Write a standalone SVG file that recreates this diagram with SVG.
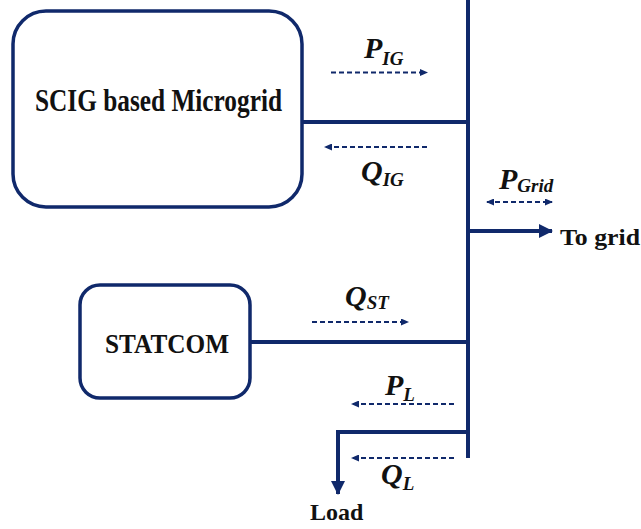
<svg xmlns="http://www.w3.org/2000/svg" width="641" height="529" viewBox="0 0 641 529">
  <style>
    .box { fill: #ffffff; stroke: #10296b; stroke-width: 3.5; }
    .wire { fill: none; stroke: #10296b; stroke-width: 4; }
    .flow { fill: none; stroke: #10296b; stroke-width: 1.8; stroke-dasharray: 5 3; }
    .name { font-family: "Liberation Serif", "Times New Roman", serif; font-weight: bold; fill: #111111; }
    .sym { font-family: "Liberation Serif", "Times New Roman", serif; font-weight: bold; font-style: italic; fill: #111111; }
    .main { font-size: 30px; }
    .sub { font-size: 19px; }
  </style>
  <defs>
    <marker id="bigHead" viewBox="0 0 14 14" refX="13" refY="7" markerWidth="14" markerHeight="14" markerUnits="userSpaceOnUse" orient="auto">
      <path d="M0,0 L14,7 L0,14 Z" fill="#10296b"/>
    </marker>
    <marker id="smallHead" viewBox="0 0 8 7" refX="7" refY="3.5" markerWidth="8" markerHeight="7" markerUnits="userSpaceOnUse" orient="auto">
      <path d="M0,0 L8,3.5 L0,7 Z" fill="#10296b"/>
    </marker>
    <marker id="smallTail" viewBox="0 0 8 7" refX="1" refY="3.5" markerWidth="8" markerHeight="7" markerUnits="userSpaceOnUse" orient="auto">
      <path d="M8,0 L0,3.5 L8,7 Z" fill="#10296b"/>
    </marker>
  </defs>

  <rect width="641" height="529" fill="#ffffff"/>

  <!-- bus bar and feeders -->
  <g id="connectors">
    <line class="wire" x1="468" y1="0" x2="468" y2="458"/>
    <line class="wire" x1="302" y1="122" x2="468" y2="122"/>
    <line class="wire" x1="250" y1="342" x2="468" y2="342"/>
    <line class="wire" x1="468" y1="231" x2="552" y2="231" marker-end="url(#bigHead)"/>
    <polyline class="wire" points="468,432 338,432 338,494" marker-end="url(#bigHead)"/>

    <!-- power flow indicators -->
    <line class="flow" x1="331" y1="72.5" x2="427" y2="72.5" marker-end="url(#smallHead)"/>
    <line class="flow" x1="427" y1="147" x2="325" y2="147" marker-end="url(#smallHead)"/>
    <line class="flow" x1="487" y1="202" x2="552" y2="202" marker-start="url(#smallTail)" marker-end="url(#smallHead)"/>
    <line class="flow" x1="312" y1="322" x2="408" y2="322" marker-end="url(#smallHead)"/>
    <line class="flow" x1="454" y1="404" x2="352" y2="404" marker-end="url(#smallHead)"/>
    <line class="flow" x1="454" y1="458" x2="352" y2="458" marker-end="url(#smallHead)"/>
  </g>

  <g id="microgrid">
    <rect class="box" x="13" y="11" width="289" height="196" rx="33" ry="33"/>
    <text class="name" x="35" y="111" font-size="32" textLength="247" lengthAdjust="spacingAndGlyphs">SCIG based Microgrid</text>
  </g>

  <g id="statcom">
    <rect class="box" x="80" y="285" width="170" height="113" rx="20" ry="20"/>
    <text class="name" x="105" y="353" font-size="27" textLength="124" lengthAdjust="spacingAndGlyphs">STATCOM</text>
  </g>

  <g id="grid">
    <text class="name" x="560" y="245" font-size="24" textLength="80" lengthAdjust="spacingAndGlyphs">To grid</text>
  </g>

  <g id="load">
    <text class="name" x="310" y="520" font-size="24">Load</text>
  </g>

  <g id="labels">
    <text class="sym" x="364" y="58"><tspan class="main">P</tspan><tspan class="sub" dy="7">IG</tspan></text>
    <text class="sym" x="361" y="181"><tspan class="main">Q</tspan><tspan class="sub" dy="5">IG</tspan></text>
    <text class="sym" x="499" y="189"><tspan class="main">P</tspan><tspan class="sub" dy="3">Grid</tspan></text>
    <text class="sym" x="345" y="306"><tspan class="main">Q</tspan><tspan class="sub" dy="3">ST</tspan></text>
    <text class="sym" x="385" y="395"><tspan class="main">P</tspan><tspan class="sub" dy="6">L</tspan></text>
    <text class="sym" x="381" y="484"><tspan class="main">Q</tspan><tspan class="sub" dy="6">L</tspan></text>
  </g>
</svg>
